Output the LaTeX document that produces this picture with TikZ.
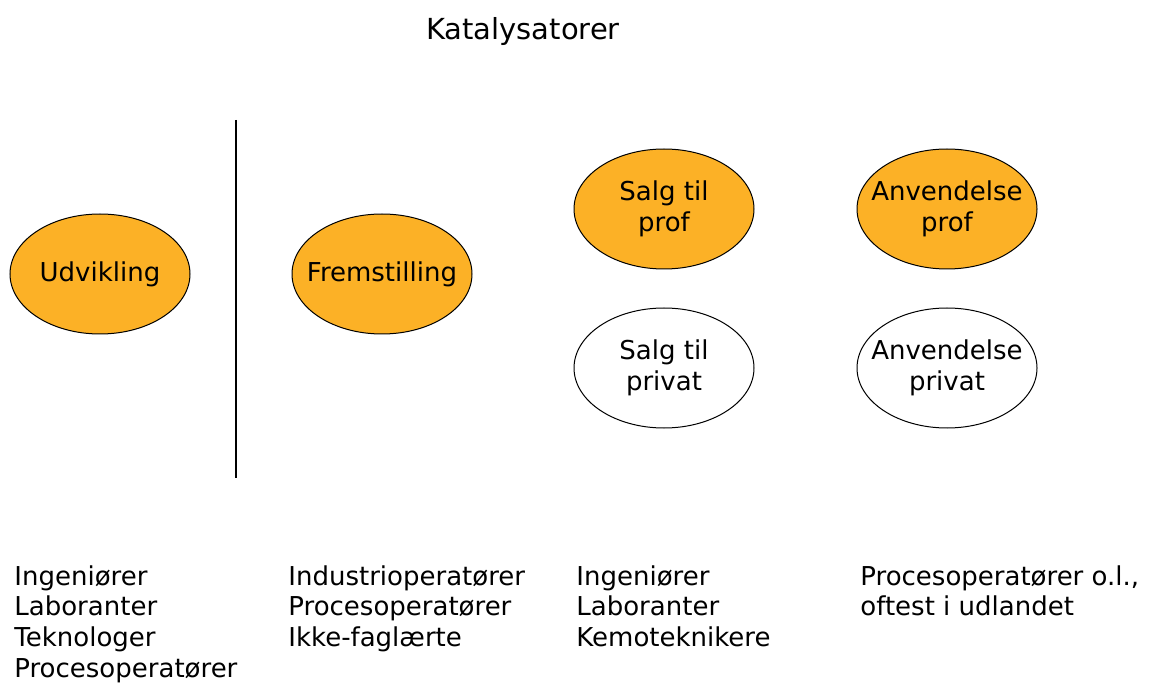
\documentclass[tikz,border=0pt]{standalone}
\usepackage{fontspec}
\setmainfont{DejaVu Sans}
\usepackage{xcolor}
\usepackage{tikz}
\usetikzlibrary{shapes.geometric, positioning}
\definecolor{katorange}{RGB}{252,177,38}

\begin{document}
\begin{tikzpicture}[
    x=0.5pt, y=-0.5pt,
    node distance=79.5pt,
    phase/.style={ellipse, draw=black, line width=0.5pt, minimum width=90pt, minimum height=60pt, inner xsep=-25pt, inner ysep=-10pt, align=center, font=\fontsize{13}{15.4}\selectfont},
    prof/.style={phase, fill=katorange},
    privat/.style={phase, fill=white},
    staff/.style={anchor=north west, inner sep=0pt, align=left, font=\fontsize{13}{15.4}\selectfont}
]
\useasboundingbox (0,0) rectangle (1152,684);

\node[font=\fontsize{14.5}{17}\selectfont, anchor=base] (title) at (523,40) {Katalysatorer};

\node[prof] (udvikling) at (100,274) {Udvikling};
\node[prof] (fremstilling) at (382,274) {Fremstilling};
\node[prof] (salgprof) at (664,209) {Salg til\\prof};
\node[privat, below of=salgprof] (salgprivat) {Salg til\\privat};
\node[prof] (anvprof) at (947,209) {Anvendelse\\prof};
\node[privat, below of=anvprof] (anvprivat) {Anvendelse\\privat};

\coordinate (skiltop) at (236,120);
\coordinate (skilbund) at (236,478);
\draw[line width=0.75pt] (skiltop) -- (skilbund);

\node[staff] (staffudv) at (14,565) {Ingeniører\\Laboranter\\Teknologer\\Procesoperatører};
\node[staff] (stafffrem) at (288,565) {Industrioperatører\\Procesoperatører\\Ikke-faglærte};
\node[staff] (staffsalg) at (576,565) {Ingeniører\\Laboranter\\Kemoteknikere};
\node[staff] (staffanv) at (860,565) {Procesoperatører o.l.,\\oftest i udlandet};

\end{tikzpicture}
\end{document}
